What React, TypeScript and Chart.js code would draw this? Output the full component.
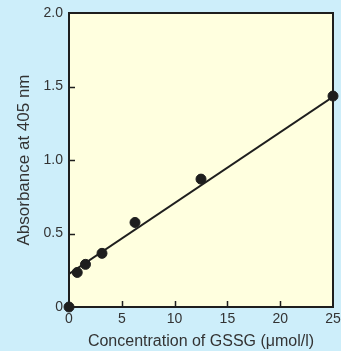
import React, { useEffect, useRef } from "react";
import { Chart, registerables } from "chart.js";

Chart.register(...registerables);

const concentrations = [0, 0.78, 1.56, 3.125, 6.25, 12.5, 25];
const absorbance = [0, 0.235, 0.29, 0.365, 0.575, 0.87, 1.435];
const fitX = [0, 25];
const fitY = [0.225, 1.43];
const xTicks = [0, 5, 10, 15, 20, 25];
const yTicks = [0, 0.5, 1.0, 1.5, 2.0];

const PAGE_BG = "#cdeefa";
const PLOT_BG = "#ffffdf";
const INK = "#1e1e1e";
const TEXT = "#333333";
const FONT = "Liberation Sans";

const boxPlugin = {
  id: "boxPlugin",
  beforeDraw(chart: any) {
    const { ctx, chartArea } = chart;
    ctx.save();
    ctx.fillStyle = PLOT_BG;
    ctx.fillRect(chartArea.left, chartArea.top, chartArea.right - chartArea.left, chartArea.bottom - chartArea.top);
    ctx.restore();
  },
  afterDatasetsDraw(chart: any) {
    const { ctx, chartArea, scales } = chart;
    const { left, right, top, bottom } = chartArea;
    ctx.save();
    ctx.strokeStyle = INK;
    ctx.lineWidth = 1.5;
    ctx.beginPath();
    xTicks.forEach((v) => {
      if (v === 0 || v === 25) return;
      const px = Math.round(scales.x.getPixelForValue(v)) + 0.5;
      ctx.moveTo(px, bottom);
      ctx.lineTo(px, bottom - 6);
    });
    yTicks.forEach((v) => {
      if (v === 0 || v === 2) return;
      const py = Math.round(scales.y.getPixelForValue(v)) + 0.5;
      ctx.moveTo(left, py);
      ctx.lineTo(left + 6, py);
    });
    ctx.stroke();
    ctx.lineWidth = 2;
    ctx.strokeRect(left, top, right - left, bottom - top);
    ctx.restore();
  },
};

export default function App() {
  const ref = useRef<HTMLCanvasElement>(null);
  useEffect(() => {
    document.body.style.margin = "0";
    document.body.style.background = PAGE_BG;
    const canvas = ref.current!;
    const chart = new Chart(canvas, {
      type: "scatter",
      data: {
        datasets: [
          {
            type: "line",
            data: fitX.map((x, i) => ({ x, y: fitY[i] })),
            borderColor: INK,
            borderWidth: 2,
            pointRadius: 0,
            fill: false,
          } as any,
          {
            data: concentrations.map((x, i) => ({ x, y: absorbance[i] })),
            backgroundColor: INK,
            borderColor: INK,
            pointRadius: 5,
            clip: false,
          } as any,
        ],
      },
      options: {
        responsive: false,
        animation: false,
        layout: { padding: { top: 13, right: 8, left: 0, bottom: 0 } },
        plugins: { legend: { display: false }, tooltip: { enabled: false } },
        scales: {
          x: {
            type: "linear",
            min: 0,
            max: 25,
            border: { display: false },
            grid: { display: false, drawTicks: false },
            afterBuildTicks: (s: any) => {
              s.ticks = xTicks.map((v) => ({ value: v }));
            },
            afterFit: (s: any) => {
              s.height = 44;
              s.paddingRight = 0;
              s.paddingLeft = 0;
            },
            ticks: {
              padding: 4,
              maxRotation: 0,
              color: TEXT,
              font: { family: FONT, size: 14 },
              callback: (v: any) => String(v),
            },
            title: {
              display: true,
              text: "Concentration of GSSG (μmol/l)",
              color: TEXT,
              font: { family: FONT, size: 16 },
              padding: { top: 0, bottom: 0 },
            },
          },
          y: {
            type: "linear",
            min: 0,
            max: 2,
            border: { display: false },
            grid: { display: false, drawTicks: false },
            afterBuildTicks: (s: any) => {
              s.ticks = yTicks.map((v) => ({ value: v }));
            },
            afterFit: (s: any) => {
              s.width = 69;
              s.paddingTop = 0;
              s.paddingBottom = 0;
            },
            ticks: {
              padding: 6,
              color: TEXT,
              font: { family: FONT, size: 14 },
              callback: (v: any) => (v === 0 ? "0" : Number(v).toFixed(1)),
            },
            title: {
              display: true,
              text: "Absorbance at 405 nm",
              color: TEXT,
              font: { family: FONT, size: 17 },
              padding: { top: 14, bottom: 0 },
            },
          },
        },
      },
      plugins: [boxPlugin],
    });
    return () => chart.destroy();
  }, []);
  return (
    <div style={{ width: 341, height: 351, background: PAGE_BG }}>
      <canvas ref={ref} width={341} height={351} style={{ display: "block" }} />
    </div>
  );
}
